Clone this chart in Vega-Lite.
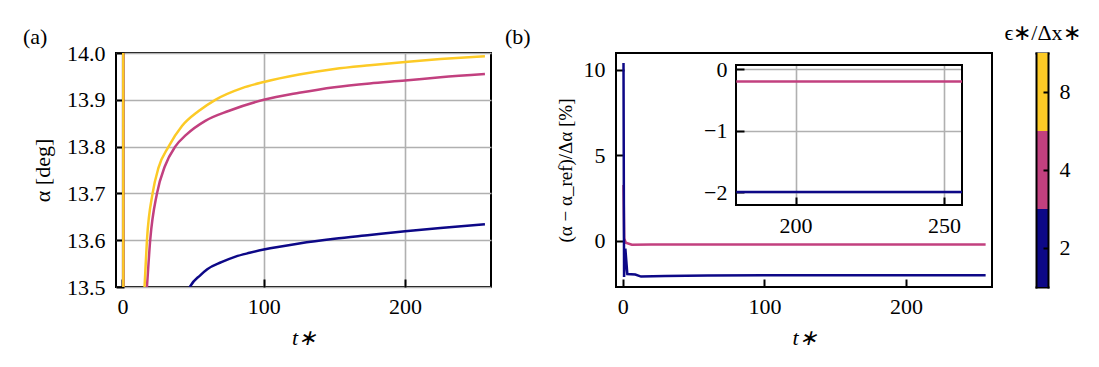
{
  "$schema": "https://vega.github.io/schema/vega-lite/v6.json",
  "padding": {"left": 22, "top": 20, "right": 5, "bottom": 5},
  "autosize": {"type": "pad"},
  "bounds": "flush",
  "spacing": 125,
  "datasets": {
    "a": [
      {"t": 0.5, "alpha": 14.6, "eps": 2}, {"t": 0.7, "alpha": 12.0, "eps": 2}, {"t": 30, "alpha": 13.3, "eps": 2},
      {"t": 48, "alpha": 13.502, "eps": 2}, {"t": 55, "alpha": 13.525, "eps": 2}, {"t": 60, "alpha": 13.538, "eps": 2},
      {"t": 70, "alpha": 13.553, "eps": 2}, {"t": 80, "alpha": 13.565, "eps": 2}, {"t": 90, "alpha": 13.573, "eps": 2},
      {"t": 100, "alpha": 13.58, "eps": 2}, {"t": 125, "alpha": 13.593, "eps": 2}, {"t": 150, "alpha": 13.603, "eps": 2},
      {"t": 175, "alpha": 13.611, "eps": 2}, {"t": 200, "alpha": 13.619, "eps": 2}, {"t": 225, "alpha": 13.626, "eps": 2},
      {"t": 256.5, "alpha": 13.634, "eps": 2},
      {"t": 0.5, "alpha": 14.6, "eps": 4}, {"t": 0.7, "alpha": 12.3, "eps": 4}, {"t": 10, "alpha": 13.2, "eps": 4},
      {"t": 17.3, "alpha": 13.5, "eps": 4}, {"t": 19.6, "alpha": 13.6, "eps": 4}, {"t": 24.4, "alpha": 13.7, "eps": 4},
      {"t": 30, "alpha": 13.758, "eps": 4}, {"t": 37.3, "alpha": 13.8, "eps": 4}, {"t": 45, "alpha": 13.825, "eps": 4},
      {"t": 58.6, "alpha": 13.855, "eps": 4}, {"t": 75, "alpha": 13.876, "eps": 4}, {"t": 100, "alpha": 13.9, "eps": 4},
      {"t": 125, "alpha": 13.915, "eps": 4}, {"t": 150, "alpha": 13.927, "eps": 4}, {"t": 175, "alpha": 13.935, "eps": 4},
      {"t": 200, "alpha": 13.941, "eps": 4}, {"t": 225, "alpha": 13.948, "eps": 4}, {"t": 256.5, "alpha": 13.955, "eps": 4},
      {"t": 0.5, "alpha": 14.6, "eps": 8}, {"t": 0.7, "alpha": 12.5, "eps": 8}, {"t": 8, "alpha": 13.2, "eps": 8},
      {"t": 15.6, "alpha": 13.5, "eps": 8}, {"t": 17.3, "alpha": 13.6, "eps": 8}, {"t": 21.3, "alpha": 13.7, "eps": 8},
      {"t": 25.5, "alpha": 13.755, "eps": 8}, {"t": 32.6, "alpha": 13.8, "eps": 8}, {"t": 42.1, "alpha": 13.844, "eps": 8},
      {"t": 53.9, "alpha": 13.876, "eps": 8}, {"t": 65.7, "alpha": 13.9, "eps": 8}, {"t": 84.6, "alpha": 13.925, "eps": 8},
      {"t": 100, "alpha": 13.938, "eps": 8}, {"t": 125, "alpha": 13.954, "eps": 8}, {"t": 150, "alpha": 13.966, "eps": 8},
      {"t": 175, "alpha": 13.974, "eps": 8}, {"t": 200, "alpha": 13.981, "eps": 8}, {"t": 225, "alpha": 13.987, "eps": 8},
      {"t": 256.5, "alpha": 13.993, "eps": 8}
    ],
    "b": [
      {"t": 0.6, "d": 3.27, "eps": 4}, {"t": 1.1, "d": 0.15, "eps": 4}, {"t": 2.2, "d": -0.1, "eps": 4},
      {"t": 6.5, "d": -0.22, "eps": 4}, {"t": 20, "d": -0.21, "eps": 4}, {"t": 100, "d": -0.2, "eps": 4},
      {"t": 180, "d": -0.2, "eps": 4}, {"t": 256.1, "d": -0.2, "eps": 4},
      {"t": 0.6, "d": 10.4, "eps": 2}, {"t": 1.0, "d": -2.1, "eps": 2}, {"t": 1.9, "d": -0.45, "eps": 2},
      {"t": 3.3, "d": -1.93, "eps": 2}, {"t": 8.9, "d": -1.96, "eps": 2}, {"t": 13, "d": -2.08, "eps": 2},
      {"t": 30, "d": -2.05, "eps": 2}, {"t": 60, "d": -2.02, "eps": 2}, {"t": 100, "d": -2.0, "eps": 2},
      {"t": 180, "d": -2.0, "eps": 2}, {"t": 256.1, "d": -2.0, "eps": 2}
    ],
    "cb": [{"eps": 8}, {"eps": 4}, {"eps": 2}],
    "one": [{}]
  },
  "hconcat": [
    {
      "width": 375,
      "height": 234,
      "data": {"name": "a"},
      "title": {"text": "(a)", "dx": -93, "dy": 24, "offset": 0, "baseline": "alphabetic"},
      "mark": {"type": "line", "clip": true, "strokeWidth": 2.5, "interpolate": "monotone"},
      "encoding": {
        "x": {"field": "t", "type": "quantitative", "scale": {"domain": [-4.6, 260.8], "nice": false, "zero": false},
          "axis": {"orient": "bottom", "values": [0, 100, 200], "grid": true, "title": "t∗", "titleFontStyle": "italic", "titlePadding": 10, "labelPadding": 17}},
        "y": {"field": "alpha", "type": "quantitative", "scale": {"domain": [13.5, 14.0], "nice": false, "zero": false},
          "axis": {"orient": "left", "values": [13.5, 13.6, 13.7, 13.8, 13.9, 14.0], "format": ".1f", "grid": true, "title": "α [deg]", "titlePadding": 12, "labelPadding": 19}},
        "color": {"field": "eps", "type": "ordinal", "scale": {"domain": [2, 4, 8], "range": ["#0d0887", "#c2407f", "#fcca26"]}, "legend": null}
      }
    },
    {
      "width": 376,
      "height": 234,
      "title": {"text": "(b)", "dx": -111, "dy": 45, "offset": 0, "baseline": "alphabetic"},
      "layer": [
        {
          "data": {"name": "b"},
          "mark": {"type": "line", "strokeWidth": 2.5},
          "encoding": {
            "x": {"field": "t", "type": "quantitative", "scale": {"domain": [-4.7, 260.6], "nice": false, "zero": false},
              "axis": {"orient": "bottom", "values": [0, 100, 200], "title": "t∗", "titleFontStyle": "italic", "titlePadding": 10, "labelPadding": 17}},
            "y": {"field": "d", "type": "quantitative", "scale": {"domain": [-2.69, 10.99], "nice": false, "zero": false},
              "axis": {"orient": "left", "values": [0, 5, 10], "title": "(α − α_ref)/Δα  [%]", "titleFontSize": 19, "titlePadding": 8, "labelPadding": 19}},
            "color": {"field": "eps", "type": "ordinal", "scale": {"domain": [2, 4, 8], "range": ["#0d0887", "#c2407f", "#fcca26"]}, "legend": null}
          }
        },
        {
          "layer": [
            {
              "data": {"name": "one"},
              "mark": {"type": "rect", "filled": false, "stroke": "black", "strokeWidth": 2},
              "encoding": {
                "x": {"datum": 179.9, "type": "quantitative", "scale": {"domain": [179.9, 256.1], "range": [120, 346], "nice": false, "zero": false},
                  "axis": {"orient": "top", "values": [200, 250], "grid": true, "labels": false, "ticks": false, "title": null}},
                "x2": {"datum": 256.1},
                "y": {"datum": -2.21, "type": "quantitative", "scale": {"domain": [-2.21, 0.07], "range": [152, 12], "nice": false, "zero": false}, "axis": null},
                "y2": {"datum": 0.07}
              }
            },
            {
              "data": {"name": "b"},
              "transform": [{"filter": "datum.t >= 179.9"}],
              "mark": {"type": "line", "strokeWidth": 2.5},
              "encoding": {
                "x": {"field": "t", "type": "quantitative", "scale": {"domain": [179.9, 256.1], "range": [120, 346], "nice": false, "zero": false},
                  "axis": {"orient": "bottom", "offset": -82, "values": [200, 250], "grid": false, "title": null, "labelPadding": 18}},
                "y": {"field": "d", "type": "quantitative", "scale": {"domain": [-2.21, 0.07], "range": [152, 12], "nice": false, "zero": false},
                  "axis": {"orient": "left", "offset": -120, "values": [0, -1, -2], "grid": true, "title": null, "labelPadding": 17}},
                "color": {"field": "eps", "type": "ordinal", "scale": {"domain": [2, 4, 8], "range": ["#0d0887", "#c2407f", "#fcca26"]}, "legend": null}
              }
            }
          ],
          "resolve": {"axis": {"x": "independent", "y": "independent"}}
        },
        {
          "data": {"name": "cb"},
          "layer": [
            {
              "mark": {"type": "rect"},
              "encoding": {
                "x": {"datum": 0, "type": "quantitative", "scale": {"domain": [0, 1], "range": [420, 432], "nice": false, "zero": false},
                  "axis": {"orient": "top", "values": [], "labels": false, "ticks": false, "grid": false, "domain": true, "title": "ϵ∗/Δx∗", "titlePadding": 9}},
                "x2": {"datum": 1},
                "y": {"field": "eps", "type": "ordinal", "sort": [8, 4, 2], "scale": {"paddingInner": 0, "paddingOuter": 0},
                  "axis": {"orient": "right", "offset": 56, "title": null, "domain": true, "tickSize": -5, "labelPadding": 16, "labelAngle": 0, "grid": false}},
                "color": {"field": "eps", "type": "ordinal", "scale": {"domain": [2, 4, 8], "range": ["#0d0887", "#c2407f", "#fcca26"]}, "legend": null}
              }
            },
            {
              "mark": {"type": "rect"},
              "encoding": {
                "x": {"datum": 0, "type": "quantitative", "scale": {"domain": [0, 1], "range": [420, 432], "nice": false, "zero": false},
                  "axis": {"orient": "bottom", "values": [], "labels": false, "ticks": false, "grid": false, "domain": true, "title": null}},
                "x2": {"datum": 1},
                "y": {"field": "eps", "type": "ordinal", "sort": [8, 4, 2], "scale": {"paddingInner": 0, "paddingOuter": 0},
                  "axis": {"orient": "left", "offset": -420, "title": null, "domain": true, "labels": false, "ticks": false, "grid": false}},
                "color": {"field": "eps", "type": "ordinal", "scale": {"domain": [2, 4, 8], "range": ["#0d0887", "#c2407f", "#fcca26"]}, "legend": null}
              }
            }
          ],
          "resolve": {"axis": {"x": "independent", "y": "independent"}}
        }
      ],
      "resolve": {"scale": {"x": "independent", "y": "independent"}, "axis": {"x": "independent", "y": "independent"}}
    }
  ],
  "config": {
    "font": "Liberation Serif",
    "background": "white",
    "view": {"stroke": "black", "strokeWidth": 2},
    "style": {
      "guide-label": {"font": "Liberation Serif", "fontSize": 22, "fill": "black"},
      "guide-title": {"font": "Liberation Serif", "fontSize": 22, "fontWeight": "normal", "fill": "black"},
      "group-title": {"font": "Liberation Serif", "fontSize": 22, "fontWeight": "normal", "fill": "black"}
    },
    "axis": {
      "labelFont": "Liberation Serif",
      "labelFontSize": 22,
      "labelColor": "black",
      "titleFont": "Liberation Serif",
      "titleFontSize": 22,
      "titleFontWeight": "normal",
      "titleColor": "black",
      "tickColor": "black",
      "tickWidth": 2,
      "tickSize": -8,
      "domain": false,
      "domainColor": "black",
      "domainWidth": 2,
      "domainCap": "square",
      "grid": false,
      "gridColor": "#b0b0b0",
      "gridWidth": 1.6,
      "labelFlush": false,
      "labelOverlap": false
    },
    "title": {"font": "Liberation Serif", "fontSize": 22, "fontWeight": "normal", "color": "black", "anchor": "start", "frame": "group"}
  }
}
